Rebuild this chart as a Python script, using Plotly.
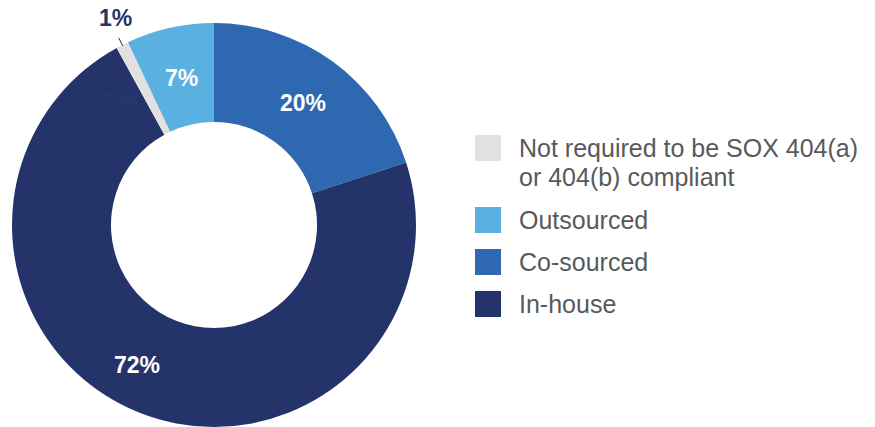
import math
import plotly.graph_objects as go

# Data (clockwise from 12 o'clock)
labels = ["Co-sourced", "In-house", "Not required to be SOX 404(a)<br>or 404(b) compliant", "Outsourced"]
values = [20, 72, 1, 7]
colors = ["#2E68B1", "#24346A", "#E1E1E1", "#5AB0E0"]
legend_order = [2, 3, 0, 1]  # indices into labels for legend rows

W, H = 875, 427
cx, cy, R = 214, 225, 202  # pixel geometry of the donut
hole = 0.51
label_r = [151, 160, 0, 151]       # label distance from centre (px)
label_shift = [0, 7, 0, 0]         # label angle offset (deg)

FONT = "Liberation Sans, Arial, Helvetica, sans-serif"

fig = go.Figure()
fig.add_trace(go.Pie(
    labels=labels,
    values=values,
    textinfo="none",
    marker=dict(colors=colors, line=dict(width=0)),
    hole=hole,
    sort=False,
    direction="clockwise",
    rotation=0,
    showlegend=False,
    hoverinfo="skip",
    domain=dict(x=[(cx - R) / W, (cx + R) / W], y=[max(0, (H - cy - R) / H), (H - cy + R) / H]),
))

annotations = []
shapes = []


def px(x, y):
    return x / W, 1 - y / H


total = sum(values)
cum = 0
for i, (v, c) in enumerate(zip(values, colors)):
    mid = (cum + v / 2) / total * 2 * math.pi
    if v >= 5:
        a = mid + math.radians(label_shift[i])
        lx, ly = cx + label_r[i] * math.sin(a), cy - label_r[i] * math.cos(a)
        x, y = px(lx, ly)
        annotations.append(dict(text=f"<b>{v}%</b>", xref="paper", yref="paper", x=x, y=y,
                                xanchor="center", yanchor="middle", showarrow=False,
                                font=dict(family=FONT, size=23, color="white")))
    else:
        sx, sy = math.sin(mid), -math.cos(mid)
        x0, y0 = cx + (R - 1) * sx, cy + (R - 1) * sy
        x1, y1 = cx + (R + 8) * sx, cy + (R + 8) * sy
        a0, b0 = px(x0, y0)
        a1, b1 = px(x1, y1)
        shapes.append(dict(type="line", xref="paper", yref="paper", x0=a0, y0=b0, x1=a1, y1=b1,
                           line=dict(color="#333333", width=1)))
        tx, ty = px(x1 - 3, y1 - 20)
        annotations.append(dict(text=f"<b>{v}%</b>", xref="paper", yref="paper", x=tx, y=ty,
                                xanchor="center", yanchor="middle", showarrow=False,
                                font=dict(family=FONT, size=23, color="#24346A")))
    cum += v

# Faint ghost label seen in the reference
gx, gy = px(120, 102)
annotations.append(dict(text="<b>7%</b>", xref="paper", yref="paper", x=gx, y=gy,
                        xanchor="center", yanchor="middle", showarrow=False,
                        font=dict(family=FONT, size=23, color="#203A6C")))

# Custom legend with large square swatches
leg_x, sq, text_x, line_gap = 475, 26, 517, 29
row_tops = [135, 207, 249, 291]
for row, idx in enumerate(legend_order):
    top = row_tops[row]
    shapes.append(dict(type="rect", xref="paper", yref="paper",
                       x0=leg_x / W, x1=(leg_x + sq) / W,
                       y0=1 - (top + sq) / H, y1=1 - top / H,
                       fillcolor=colors[idx], line=dict(width=0)))
    for k, line in enumerate(labels[idx].split("<br>")):
        tx, ty = px(text_x, top + sq / 2 + k * line_gap)
        annotations.append(dict(text=line, xref="paper", yref="paper", x=tx, y=ty,
                                xanchor="left", yanchor="middle", showarrow=False,
                                font=dict(family=FONT, size=25, color="#58595B")))

fig.update_layout(
    width=W, height=H,
    margin=dict(l=0, r=0, t=0, b=0),
    paper_bgcolor="white", plot_bgcolor="white",
    annotations=annotations,
    shapes=shapes,
)

fig.write_html("out.html")
